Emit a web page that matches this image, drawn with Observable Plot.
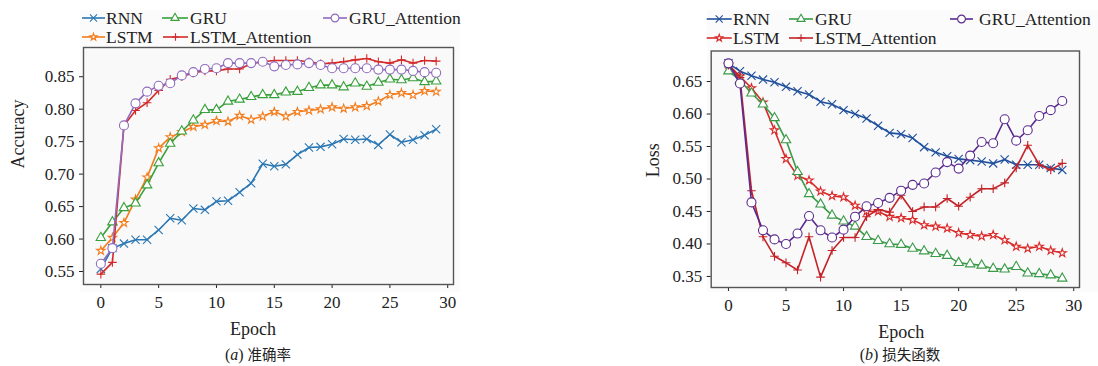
<!DOCTYPE html>
<html><head><meta charset="utf-8">
<script src="https://cdn.jsdelivr.net/npm/d3@7"></script>
<script src="https://cdn.jsdelivr.net/npm/@observablehq/plot@0.6"></script>
<style>
body{margin:0;background:#fff;}
#wrap{position:relative;width:1098px;height:366px;overflow:hidden;}
#wrap svg{position:absolute;top:0;}
</style></head><body><div id="wrap"></div>
<script>
const epochs = [0,1,2,3,4,5,6,7,8,9,10,11,12,13,14,15,16,17,18,19,20,21,22,23,24,25,26,27,28,29];
const seriesNames = ["RNN","LSTM","GRU","LSTM_Attention","GRU_Attention"];
const xTicks = [0,5,10,15,20,25,30];
const accTicks = [0.55,0.60,0.65,0.70,0.75,0.80,0.85];
const lossTicks = [0.35,0.40,0.45,0.50,0.55,0.60,0.65];

const accRNN = [0.554,0.586,0.593,0.599,0.599,0.614,0.632,0.629,0.647,0.645,0.658,0.659,0.672,0.686,0.716,0.712,0.715,0.730,0.741,0.742,0.746,0.754,0.753,0.754,0.745,0.761,0.749,0.753,0.760,0.769];
const accLSTM = [0.582,0.602,0.625,0.661,0.695,0.740,0.757,0.765,0.773,0.776,0.782,0.781,0.790,0.784,0.789,0.796,0.789,0.796,0.798,0.800,0.803,0.801,0.803,0.805,0.812,0.822,0.825,0.822,0.828,0.827];
const accGRU = [0.602,0.626,0.648,0.655,0.683,0.717,0.747,0.766,0.783,0.799,0.799,0.812,0.815,0.819,0.822,0.822,0.826,0.827,0.833,0.837,0.837,0.834,0.840,0.835,0.841,0.846,0.845,0.848,0.842,0.843];
const accLSTMAtt = [0.546,0.564,0.775,0.798,0.810,0.829,0.846,0.850,0.856,0.859,0.859,0.862,0.862,0.870,0.873,0.875,0.875,0.875,0.873,0.870,0.871,0.873,0.876,0.878,0.873,0.871,0.876,0.871,0.875,0.874];
const accGRUAtt = [0.562,0.586,0.775,0.809,0.827,0.836,0.840,0.852,0.857,0.862,0.863,0.871,0.871,0.871,0.873,0.866,0.868,0.869,0.871,0.868,0.863,0.863,0.863,0.863,0.861,0.861,0.861,0.859,0.857,0.856];

const lossRNN = [0.678,0.666,0.659,0.653,0.649,0.642,0.635,0.630,0.619,0.615,0.606,0.600,0.593,0.582,0.571,0.569,0.563,0.549,0.541,0.535,0.531,0.529,0.527,0.524,0.530,0.522,0.522,0.522,0.517,0.514];
const lossLSTM = [0.676,0.658,0.640,0.618,0.575,0.531,0.505,0.498,0.481,0.474,0.472,0.459,0.450,0.450,0.442,0.440,0.437,0.429,0.427,0.424,0.417,0.414,0.412,0.414,0.406,0.396,0.393,0.396,0.390,0.386];
const lossGRU = [0.666,0.652,0.632,0.615,0.594,0.560,0.511,0.477,0.461,0.444,0.435,0.427,0.411,0.405,0.400,0.399,0.393,0.389,0.385,0.382,0.371,0.369,0.367,0.362,0.361,0.365,0.355,0.354,0.352,0.347];
const lossLSTMAtt = [0.675,0.656,0.482,0.411,0.381,0.371,0.360,0.411,0.349,0.390,0.410,0.410,0.442,0.453,0.449,0.475,0.450,0.457,0.457,0.470,0.458,0.472,0.485,0.485,0.494,0.517,0.552,0.522,0.514,0.524];
const lossGRUAtt = [0.678,0.647,0.464,0.421,0.407,0.400,0.416,0.443,0.421,0.410,0.422,0.442,0.458,0.463,0.471,0.482,0.491,0.493,0.510,0.526,0.516,0.536,0.557,0.555,0.592,0.559,0.575,0.597,0.606,0.620];

const accColors = ["#2a77b4","#f47c1c","#38a03a","#d42a2a","#8f6bbd"];
const lossColors = ["#1f4f9c","#d92a2a","#3a9a48","#c42228","#5a2a8e"];
const symbols = ["times","star","triangle","plus","circle"];
const radii = [3.8,2.6,3.5,2.9,4.5];
const hollow = [false,true,true,false,true];

const SERIF = "'Liberation Serif','Times New Roman',serif";

function rows(values, name) {
  return values.map((v, i) => ({epoch: epochs[i], value: v, series: name}));
}

function panel(cfg) {
  const marks = [
    Plot.frame({fill: "#f9f9f9", stroke: "none"}),
    Plot.axisX(xTicks, {tickSize: 4, tickPadding: 7, label: null, fontSize: 17}),
    Plot.axisY(cfg.yTicks, {tickSize: 4, tickPadding: 5, label: null, fontSize: 17, tickFormat: d => d.toFixed(2)})
  ];
  cfg.series.forEach((vals, k) => {
    const data = rows(vals, seriesNames[k]);
    const c = cfg.colors[k];
    marks.push(Plot.line(data, {x: "epoch", y: "value", stroke: c, strokeWidth: 1.6}));
    marks.push(Plot.dot(data, {x: "epoch", y: "value", symbol: symbols[k], r: radii[k], stroke: c, fill: hollow[k] ? "white" : "none", strokeWidth: 1.1}));
  });
  marks.push(Plot.frame({stroke: "#555", strokeWidth: 1.4}));
  marks.push(Plot.text(["Epoch"], {text: d => d, frameAnchor: "bottom", dx: cfg.epochDx, dy: 50, fontSize: 18}));
  marks.push(Plot.text([cfg.yLabel], {text: d => d, frameAnchor: "left", rotate: -90, dx: cfg.yLabelDx, dy: cfg.yLabelDy, fontSize: 18}));
  const svg = Plot.plot({
    width: 549, height: 366,
    marginLeft: cfg.ml, marginRight: cfg.mr, marginTop: cfg.mt, marginBottom: cfg.mb,
    x: {domain: [-1.5, 30.5]},
    y: {domain: cfg.yDomain},
    style: {fontFamily: SERIF, fontSize: "17px", color: "#222", background: "transparent"},
    marks
  });
  svg.style.left = cfg.left + "px";
  const s = d3.select(svg);
  s.insert("rect", ":first-child").attr("x", cfg.bg[0]).attr("y", 10).attr("width", cfg.bg[1] - cfg.bg[0]).attr("height", 282).attr("fill", "#fbfbfb");
  const sym = {times: d3.symbolTimes, star: d3.symbolStar, triangle: d3.symbolTriangle, plus: d3.symbolPlus, circle: d3.symbolCircle};
  cfg.legend.forEach(it => {
    const k = seriesNames.indexOf(it.name);
    const c = cfg.colors[k];
    const g = s.append("g");
    g.append("line").attr("x1", it.x0).attr("x2", it.x1).attr("y1", it.y).attr("y2", it.y).attr("stroke", c).attr("stroke-width", 1.6);
    g.append("path").attr("d", d3.symbol(sym[symbols[k]], Math.PI * radii[k] * radii[k] * 0.75)())
      .attr("transform", `translate(${(it.x0 + it.x1) / 2},${it.y})`)
      .attr("fill", hollow[k] ? "white" : "none").attr("stroke", c).attr("stroke-width", 1.1);
    g.append("text").attr("x", it.tx).attr("y", it.y).attr("dy", "0.33em")
      .attr("font-family", SERIF).attr("text-anchor", "start")
      .attr("font-size", 17.5).attr("fill", "#222").text(it.name);
  });
  const cap = s.append("text").attr("x", cfg.capX).attr("y", 360).attr("text-anchor", "middle")
    .attr("font-family", SERIF).attr("font-size", 16).attr("fill", "#222");
  cap.append("tspan").text("(");
  cap.append("tspan").attr("font-style", "italic").text(cfg.capLetter);
  cap.append("tspan").text(") ");
  cap.append("tspan").attr("font-family", "'Noto Sans CJK SC'").attr("font-size", 14.5).text(cfg.capText);
  document.getElementById("wrap").appendChild(svg);
}

panel({
  left: 0, ml: 83, mr: 96, mt: 47, mb: 82,
  yDomain: [0.53, 0.895], yTicks: accTicks, yLabel: "Accuracy", yLabelDx: -65.5, yLabelDy: 2.5,
  epochDx: -15.5, colors: accColors,
  series: [accRNN, accLSTM, accGRU, accLSTMAtt, accGRUAtt],
  bg: [80, 460],
  legend: [
    {name: "RNN", x0: 82, x1: 105, y: 18, tx: 106},
    {name: "GRU", x0: 162, x1: 188, y: 18, tx: 190},
    {name: "GRU_Attention", x0: 323, x1: 347, y: 18, tx: 349},
    {name: "LSTM", x0: 82, x1: 105, y: 37, tx: 106},
    {name: "LSTM_Attention", x0: 163, x1: 188, y: 37, tx: 190}
  ],
  capX: 258, capLetter: "a", capText: "准确率"
});

panel({
  left: 549, ml: 161.7, mr: 19, mt: 50.5, mb: 79,
  yDomain: [0.333, 0.697], yTicks: lossTicks, yLabel: "Loss", yLabelDx: -58, yLabelDy: 8,
  epochDx: 6, colors: lossColors,
  series: [lossRNN, lossLSTM, lossGRU, lossLSTMAtt, lossGRUAtt],
  bg: [158, 549],
  legend: [
    {name: "RNN", x0: 157.7, x1: 182.7, y: 19, tx: 184},
    {name: "GRU", x0: 240, x1: 264, y: 19, tx: 266},
    {name: "GRU_Attention", x0: 401, x1: 424, y: 19, tx: 430},
    {name: "LSTM", x0: 157.7, x1: 182.7, y: 38, tx: 184},
    {name: "LSTM_Attention", x0: 240, x1: 264, y: 38, tx: 266}
  ],
  capX: 351, capLetter: "b", capText: "损失函数"
});
</script></body></html>
